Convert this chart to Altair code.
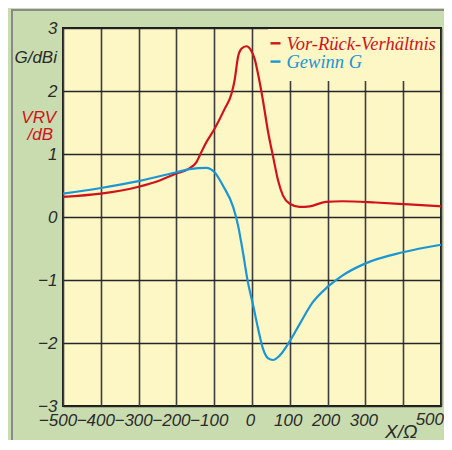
import altair as alt
import pandas as pd

# ---- data ----
vrv_x = [-500, -400, -300, -244, -200, -169, -147, -138, -125, -99, -72, -54, -46,
         -37, -28, -15, -2, 7, 16, 29, 42, 56, 69, 82, 100, 126, 153, 195, 239,
         327, 415, 500]
vrv_y = [0.32, 0.37, 0.48, 0.58, 0.69, 0.76, 0.87, 0.98, 1.14, 1.40, 1.72, 1.96, 2.17,
         2.54, 2.67, 2.71, 2.64, 2.51, 2.27, 1.85, 1.37, 0.95, 0.58, 0.34, 0.21, 0.16,
         0.17, 0.24, 0.25, 0.23, 0.20, 0.17]

g_x = [-500, -400, -300, -200, -165, -121, -99, -77, -50, -37, -24, -11, 3, 16, 29,
       42, 56, 73, 100, 126, 160, 200, 239, 299, 399, 500]
g_y = [0.37, 0.46, 0.57, 0.71, 0.76, 0.78, 0.71, 0.50, 0.16, -0.13, -0.56, -1.03,
       -1.40, -1.77, -2.09, -2.24, -2.27, -2.20, -1.97, -1.70, -1.36, -1.11, -0.93,
       -0.74, -0.56, -0.44]

series_names = ["Vor-Rück-Verhältnis", "Gewinn G"]
series_colors = ["#d0121b", "#1a96d4"]
x_ticks = [-500, -400, -300, -200, -100, 0, 100, 200, 300, 400, 500]
x_unlabelled = [400, 500]      # 400 has no label; 500 is drawn pulled inside
x_end_label = "500"
y_ticks = [-3, -2, -1, 0, 1, 2, 3]
y_title_main = "G/dBi"
y_title_red = ["VRV", "/dB"]
x_title = "X/Ω"

YELLOW = "#fdf7c6"
GREEN = "#c9dcb0"
TEXT = "#2a2a2a"
FONT = "Liberation Sans"
NARROW = "Liberation Sans Narrow"

df = pd.concat([
    pd.DataFrame({"x": vrv_x, "y": vrv_y, "series": series_names[0]}),
    pd.DataFrame({"x": g_x, "y": g_y, "series": series_names[1]}),
])
one = pd.DataFrame({"a": [0]})

x_scale = alt.Scale(domain=[-500, 500], nice=False, zero=False)
y_scale = alt.Scale(domain=[-3, 3], nice=False, zero=False)

hide = " || ".join(f"datum.value == {v}" for v in x_unlabelled)
x_axis = alt.Axis(
    values=x_ticks,
    labelExpr=f"({hide}) ? '' : datum.label",
    format="d",
    ticks=False, domain=False,
    grid=True, gridColor="#3d3d3d", gridWidth=1.6,
    labelFont=FONT, labelFontSize=17, labelFontStyle="italic", labelColor=TEXT,
    labelPadding=6, labelOverlap=False, labelFlush=False, labelBound=False,
    labelOffset={"condition": {"test": "datum.value < 0", "value": -5.5}, "value": -2},
    title=x_title, titleFont=FONT, titleFontSize=19, titleFontStyle="italic",
    titleFontWeight="normal", titleColor=TEXT, titleAlign="right",
    titleBaseline="alphabetic", titleX=354, titleY=31, titleAnchor="end",
)
y_axis = alt.Axis(
    values=y_ticks, format="d",
    ticks=False, domain=False,
    grid=True, gridColor="#262626", gridWidth=1.6,
    labelFont=FONT, labelFontSize=17, labelFontStyle="italic", labelColor=TEXT,
    labelPadding=6, labelOverlap=False, labelFlush=False, labelBound=False,
    title=None,
)

legend_bg = alt.Chart(one).mark_rect(fill=YELLOW).encode(
    x=alt.value(205), x2=alt.value(377), y=alt.value(1), y2=alt.value(53)
)

lines = alt.Chart(df).mark_line(strokeWidth=2.2, interpolate="monotone").encode(
    x=alt.X("x:Q", scale=x_scale, axis=x_axis),
    y=alt.Y("y:Q", scale=y_scale, axis=y_axis),
    color=alt.Color("series:N",
                    scale=alt.Scale(domain=series_names, range=series_colors),
                    legend=None),
)

layers = [legend_bg, lines]

# label at the right end of the x axis, pulled inside the canvas like the reference
layers.append(alt.Chart(one).mark_text(
    align="right", baseline="top", font=FONT, fontSize=17, fontStyle="italic",
    color=TEXT).encode(
    x=alt.value(381), y=alt.value(384), text=alt.value(x_end_label)))

# legend entries
for i, (name, col) in enumerate(zip(series_names, series_colors)):
    base_y = 22 + i * 18.3
    layers.append(alt.Chart(one).mark_rule(color=col, strokeWidth=2.4).encode(
        x=alt.value(207.5), x2=alt.value(217.5), y=alt.value(base_y - 6.7)))
    layers.append(alt.Chart(one).mark_text(
        align="left", baseline="alphabetic", font=NARROW, fontSize=18.5,
        fontStyle="italic", color=col).encode(
        x=alt.value(223.5), y=alt.value(base_y), text=alt.value(name)))

# y-axis titles
layers.append(alt.Chart(one).mark_text(
    align="right", baseline="alphabetic", font=FONT, fontSize=17,
    fontStyle="italic", color=TEXT).encode(
    x=alt.value(-6), y=alt.value(35), text=alt.value(y_title_main)))
for j, t in enumerate(y_title_red):
    layers.append(alt.Chart(one).mark_text(
        align="right", baseline="alphabetic", font=FONT, fontSize=17,
        fontStyle="italic", color=series_colors[0]).encode(
        x=alt.value(-7 - 3 * j), y=alt.value(94.5 + 17.5 * j), text=alt.value(t)))

# outer panel border
layers.append(alt.Chart(one).mark_rect(
    fillOpacity=0, stroke="#8a8a8a", strokeWidth=2, clip=False).encode(
    x=alt.value(-51), x2=alt.value(390), y=alt.value(-18), y2=alt.value(430)))

chart = alt.layer(*layers).properties(
    width=378, height=378,
    autosize=alt.AutoSizeParams(type="none"),
    padding={"left": 55, "top": 20, "right": 3, "bottom": 34},
    background=GREEN,
).configure_view(
    fill=YELLOW, stroke="#1a1a1a", strokeWidth=2,
)

chart.save("out.html", embed_options={"renderer": "svg", "actions": False})
